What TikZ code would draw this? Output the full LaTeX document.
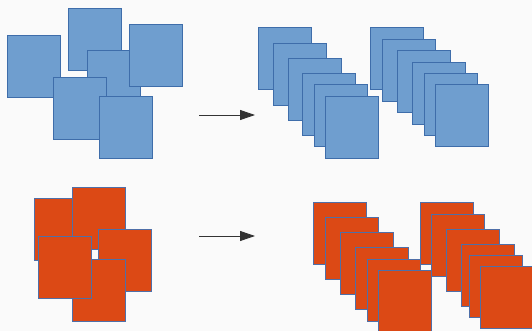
\documentclass[tikz,border=0pt]{standalone}
\usetikzlibrary{arrows.meta}
\definecolor{bgcol}{HTML}{FAFAFA}
\definecolor{bluefill}{HTML}{6F9ECF}
\definecolor{blueline}{HTML}{3E6DAA}
\definecolor{orangefill}{HTML}{DC4915}
\definecolor{orangeline}{HTML}{4F6FA8}
\tikzset{
  tile/.style={rectangle, anchor=north west, inner sep=0pt,
    minimum width=53pt, minimum height=62pt, line width=1.1pt},
  bluetile/.style={tile, fill=bluefill, draw=blueline},
  redtile/.style={tile, fill=orangefill, draw=orangeline},
  goes/.style={draw=black!80, line width=0.9pt,
    -{Triangle[length=15pt,width=10pt]}},
}
\begin{document}
\begin{tikzpicture}[x=1pt,y=-1pt]
  \useasboundingbox (0,0) rectangle (532,331);
  \fill[bgcol] (0,0) rectangle (532,331);
  \clip (0,0) rectangle (532,331);

  % scattered blue tiles
  \node[bluetile] (bA) at (7,35) {};
  \node[bluetile] (bB) at (68,8) {};
  \node[bluetile] (bC) at (87,50) {};
  \node[bluetile] (bD) at (129,24) {};
  \node[bluetile] (bE) at (53,77) {};
  \node[bluetile] (bF) at (99,96) {};

  % blue tiles stacked into two columns
  \foreach \x/\y [count=\i] in {258/27,273/43,288/58,302/73,314/84,325/96}
    \node[bluetile] (bs\i) at (\x,\y) {};
  \foreach \x/\y [count=\i] in {370/27,382/39,397/50,412/62,424/73,435/84}
    \node[bluetile] (bt\i) at (\x,\y) {};

  % scattered orange tiles
  \node[redtile] (rA) at (34,198) {};
  \node[redtile] (rB) at (72,187) {};
  \node[redtile] (rC) at (98,229) {};
  \node[redtile] (rE) at (72,259) {};
  \node[redtile] (rD) at (38,236) {};

  % orange tiles stacked into two columns
  \foreach \x/\y [count=\i] in {313/202,325/217,340/232,355/247,367/259,378/270}
    \node[redtile] (rs\i) at (\x,\y) {};
  \foreach \x/\y [count=\i] in {420/202,431/214,446/229,461/244,469/255,480/266}
    \node[redtile] (rt\i) at (\x,\y) {};

  % arrows
  \coordinate (a1s) at (199,115);
  \coordinate (a1e) at (255,115);
  \coordinate (a2s) at (199,236);
  \coordinate (a2e) at (255,236);
  \draw[goes] (a1s) -- (a1e);
  \draw[goes] (a2s) -- (a2e);
\end{tikzpicture}
\end{document}
